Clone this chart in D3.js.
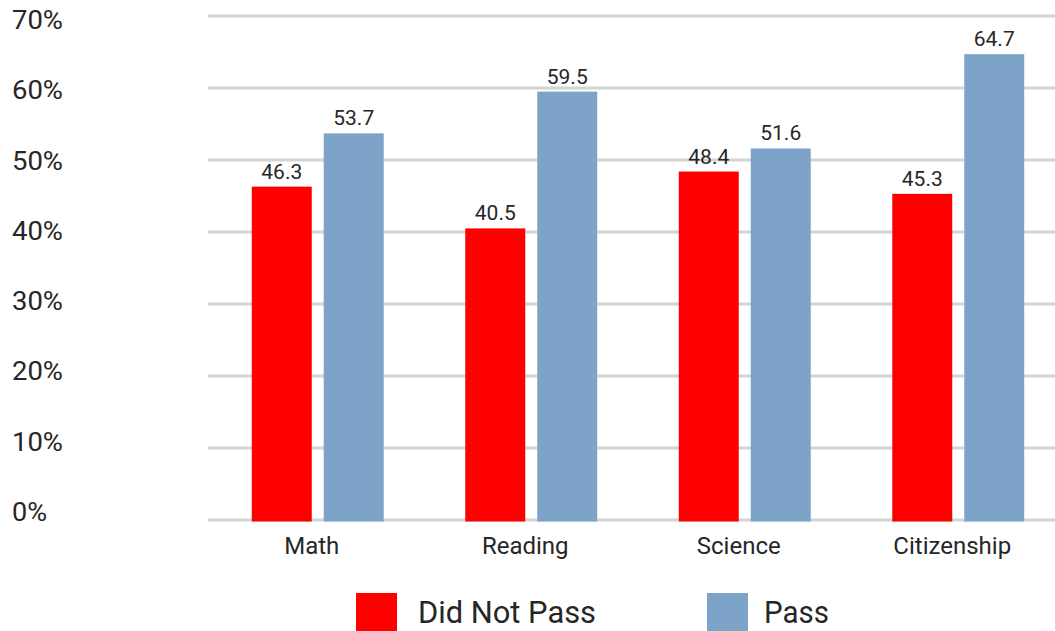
<!DOCTYPE html>
<html>
<head>
<meta charset="utf-8">
<script src="https://cdn.jsdelivr.net/npm/d3@7"></script>
<style>
  html, body { margin: 0; padding: 0; background: #fff; }
  svg { display: block; font-family: Roboto, "Open Sans", sans-serif; }
</style>
</head>
<body>
<svg id="chart" width="1055" height="631"></svg>
<script>
// Test results by subject
const subjects = ["Math", "Reading", "Science", "Citizenship"];
const seriesNames = ["Did Not Pass", "Pass"];
const didNotPass = [46.3, 40.5, 48.4, 45.3];
const pass = [53.7, 59.5, 51.6, 64.7];
const yTicks = [0, 10, 20, 30, 40, 50, 60, 70];
const colors = ["#ff0000", "#7ea3c8"];

const svg = d3.select("#chart");
const textColor = "#262626";

const y = d3.scaleLinear().domain([0, 70]).range([520, 16]);
// tick labels sit slightly off their gridlines
const yLabel = d3.scaleLinear().domain([0, 70]).range([521, 29]);

const x0 = d3.scaleBand().domain(subjects).range([211, 1065])
  .paddingInner(0.382).paddingOuter(0.191);
const x1 = d3.scaleBand().domain(seriesNames).range([0, x0.bandwidth()])
  .paddingInner(1 / 6);

// gridlines
svg.append("g").selectAll("line").data(yTicks).join("line")
  .attr("x1", 208).attr("x2", 1055)
  .attr("y1", d => y(d)).attr("y2", d => y(d))
  .attr("stroke", "#d4d4d4").attr("stroke-width", 3);

// y tick labels
svg.append("g").selectAll("text").data(yTicks).join("text")
  .attr("x", 12).attr("y", d => yLabel(d))
  .attr("font-size", 26).attr("fill", textColor)
  .attr("textLength", d => d === 0 ? 35 : 51)
  .attr("lengthAdjust", "spacingAndGlyphs")
  .text(d => d + "%");

const rows = subjects.map((s, i) => ({
  subject: s,
  values: [
    { key: seriesNames[0], value: didNotPass[i] },
    { key: seriesNames[1], value: pass[i] }
  ]
}));

const groups = svg.append("g").selectAll("g").data(rows).join("g")
  .attr("transform", d => `translate(${x0(d.subject)},0)`);

groups.selectAll("rect").data(d => d.values).join("rect")
  .attr("x", d => x1(d.key))
  .attr("y", d => y(d.value))
  .attr("width", x1.bandwidth())
  .attr("height", d => y(0) - y(d.value) + 1.5)
  .attr("fill", (d, i) => colors[i]);

groups.selectAll("text").data(d => d.values).join("text")
  .attr("x", d => x1(d.key) + x1.bandwidth() / 2)
  .attr("y", d => y(d.value) - 8)
  .attr("text-anchor", "middle")
  .attr("font-size", 21).attr("fill", textColor)
  .text(d => d.value.toFixed(1));

// category labels
svg.append("g").selectAll("text").data(subjects).join("text")
  .attr("x", d => x0(d) + x0.bandwidth() / 2 - 6)
  .attr("y", 554)
  .attr("text-anchor", "middle")
  .attr("font-size", 24).attr("fill", textColor)
  .text(d => d);

// legend
const legendX = [356, 707];
const legendTextX = [62, 57];
const legendW = [178, 65];
const legend = svg.append("g").selectAll("g").data(seriesNames).join("g")
  .attr("transform", (d, i) => `translate(${legendX[i]},593)`);
legend.append("rect")
  .attr("width", 41).attr("height", 40)
  .attr("fill", (d, i) => colors[i]);
legend.append("text")
  .attr("x", (d, i) => legendTextX[i]).attr("y", 30)
  .attr("font-size", 31).attr("fill", textColor)
  .attr("textLength", (d, i) => legendW[i])
  .attr("lengthAdjust", "spacingAndGlyphs")
  .text(d => d);
</script>
</body>
</html>
